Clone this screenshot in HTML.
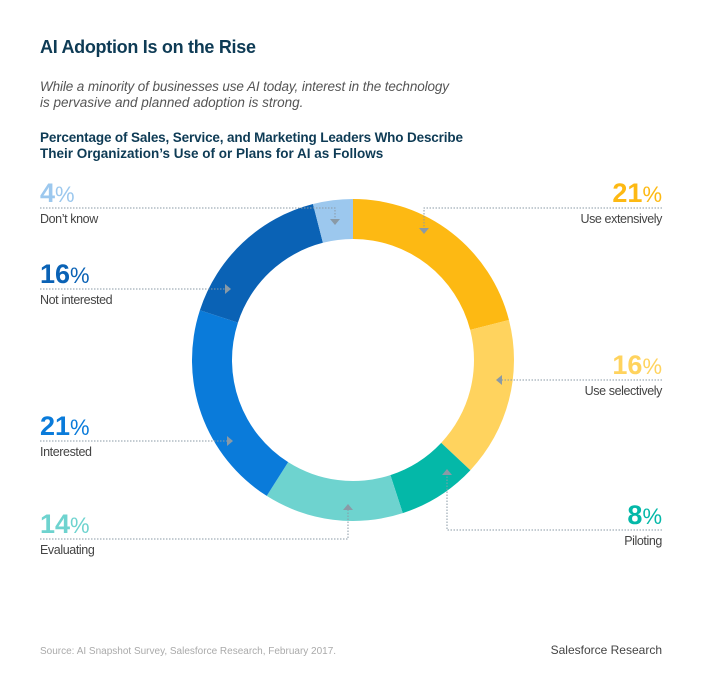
<!DOCTYPE html>
<html><head><meta charset="utf-8"><style>
body{margin:0;background:#fff;width:707px;height:682px;overflow:hidden;font-family:"Liberation Sans",sans-serif}
</style></head><body>
<svg width="707" height="682" viewBox="0 0 707 682">
<text x="40" y="53" font-size="18" font-weight="bold" fill="#0e3b55" textLength="216">AI Adoption Is on the Rise</text>
<g font-size="13.5" font-style="italic" fill="#555">
<text x="40" y="91" textLength="409">While a minority of businesses use AI today, interest in the technology</text>
<text x="40" y="107">is pervasive and planned adoption is strong.</text></g>
<g font-size="13.5" font-weight="bold" fill="#0e3b55">
<text x="40" y="142" textLength="423">Percentage of Sales, Service, and Marketing Leaders Who Describe</text>
<text x="40" y="158">Their Organization’s Use of or Plans for AI as Follows</text></g>
<g id="donut"></g>
<g id="labels"></g>
<text x="40" y="654" font-size="10" fill="#aaa">Source: AI Snapshot Survey, Salesforce Research, February 2017.</text>
<text x="662" y="654" font-size="12" fill="#444" text-anchor="end">Salesforce Research</text>
</svg>
<script>
const categories=["Use extensively","Use selectively","Piloting","Evaluating","Interested","Not interested","Don’t know"];
const values=[21,16,8,14,21,16,4];
const colors=["#FDB913","#FFD35E","#04B8A8","#6ED3CF","#0A7BDA","#0A62B5","#9CC8EE"];
const NS="http://www.w3.org/2000/svg";
const cx=353,cy=360,ro=161,ri=121;
const total=values.reduce((a,b)=>a+b,0);
function pt(a,r){return [cx+r*Math.sin(a),cy-r*Math.cos(a)];}
let acc=0;const donut=document.getElementById('donut');
values.forEach((v,i)=>{
 const a0=acc/total*2*Math.PI;acc+=v;const a1=acc/total*2*Math.PI;
 const lg=(a1-a0)>Math.PI?1:0;
 const p1=pt(a0,ro),p2=pt(a1,ro),p3=pt(a1,ri),p4=pt(a0,ri);
 const p=document.createElementNS(NS,'path');
 p.setAttribute('d',`M${p1}A${ro},${ro} 0 ${lg} 1 ${p2}L${p3}A${ri},${ri} 0 ${lg} 0 ${p4}Z`);
 p.setAttribute('fill',colors[i]);
 
 
 donut.appendChild(p);
});
const layout=[["r",208,424,424,233,"d"],["r",380,497,497,380,"l"],["r",530,447,447,470,"u"],["l",539,348,348,505,"u"],["l",441,232,232,441,"r"],["l",289,230,230,289,"r"],["l",208,335,335,224,"d"]];
const lab=document.getElementById('labels');
function el(t,attrs,parent){const e=document.createElementNS(NS,t);for(const k in attrs)e.setAttribute(k,attrs[k]);parent.appendChild(e);return e;}
values.forEach((v,i)=>{
 const [s,ly,ex,ax,ay,dir]=layout[i];
 const g=el('g',{},lab);
 
 
 const x=s==="l"?40:662, anc=s==="l"?"start":"end";
 const t=el('text',{x:x,y:ly-6,'text-anchor':anc,fill:colors[i],'font-size':27},g);
 const b=el('tspan',{'font-weight':'bold'},t);b.textContent=v;
 const pc=el('tspan',{'font-size':22},t);pc.textContent='%';
 const l=el('text',{x:x,y:ly+15,'text-anchor':anc,fill:'#444','font-size':12.5,'letter-spacing':'-0.4'},g);l.textContent=categories[i];
 const st={stroke:'#8a9aa6','stroke-width':1,'stroke-dasharray':'1.5 1.5',fill:'none'};
 if(dir==="l"||dir==="r"){el('line',Object.assign({x1:x,y1:ly,x2:ex,y2:ly},st),g);}
 else{el('polyline',Object.assign({points:`${x},${ly} ${ex},${ly} ${ax},${ay}`},st),g);}
 let pts;const k=5;
 if(dir==="d")pts=`${ax-k},${ay-k} ${ax+k},${ay-k} ${ax},${ay+1}`;
 if(dir==="u")pts=`${ax-k},${ay+k} ${ax+k},${ay+k} ${ax},${ay-1}`;
 if(dir==="r")pts=`${ax-k},${ay-k} ${ax-k},${ay+k} ${ax+1},${ay}`;
 if(dir==="l")pts=`${ax+k},${ay-k} ${ax+k},${ay+k} ${ax-1},${ay}`;
 el('polygon',{points:pts,fill:'#8a9aa6'},g);
});
</script>
</body></html>
